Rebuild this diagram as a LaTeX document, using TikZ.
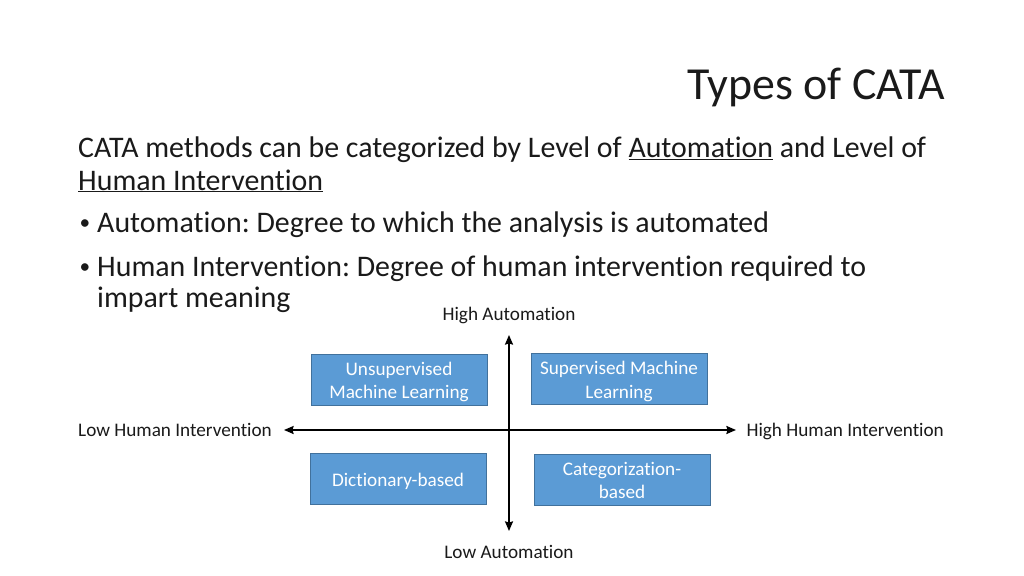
\documentclass[tikz,border=0pt]{standalone}
\usepackage{fontspec}
\setmainfont[Ligatures=NoCommon]{Carlito}
\frenchspacing
\usetikzlibrary{arrows.meta}
\definecolor{boxfill}{HTML}{5B9BD5}
\definecolor{boxline}{HTML}{41719C}
\definecolor{txt}{HTML}{1A1A1A}
\begin{document}
\begin{tikzpicture}[x=0.9375pt,y=-0.9375pt,
  body/.style={anchor=base west,inner sep=0pt,font=\fontsize{28}{32}\selectfont,text=txt},
  dot/.style={anchor=base west,inner sep=0pt,font=\fontsize{20}{24}\selectfont,text=txt},
  lbl/.style={inner sep=0pt,font=\fontsize{18}{21.6}\selectfont,text=txt},
  quad/.style={draw=boxline,fill=boxfill,line width=0.8pt,inner sep=0pt,
    minimum width=176*0.9375pt,minimum height=51*0.9375pt},
  qtext/.style={inner sep=0pt,text=white,font=\fontsize{18}{21.6}\selectfont,align=center},
  axis/.style={line width=1.6pt,{Stealth[length=9pt,width=7.5pt,inset=1pt]}-{Stealth[length=9pt,width=7.5pt,inset=1pt]}}]
\useasboundingbox[fill=white] (0,0) rectangle (1024,576);
\node[anchor=base east,inner sep=0pt,font=\fontsize{43}{48}\selectfont,text=txt] (title) at (945,100) {Types of CATA};
\node[body] (l1) at (78,158) {CATA methods can be categorized by Level of \underline{Automation} and Level of};
\node[body] (l2) at (78,190) {\underline{Human Intervention}};
\node[dot] (d1) at (79.5,229) {\textbullet};
\node[body] (b1) at (97,232) {Automation: Degree to which the analysis is automated};
\node[dot] (d2) at (79.5,273) {\textbullet};
\node[body] (b2) at (97,276) {Human Intervention: Degree of human intervention required to};
\node[body] (b3) at (97,307) {impart meaning};
\node[lbl,anchor=base] (ha) at (509,320) {High Automation};
\node[lbl,anchor=base] (la) at (509,558) {Low Automation};
\node[lbl,anchor=base west] (lh) at (78,436) {Low Human Intervention};
\node[lbl,anchor=base east] (hh) at (944,436) {High Human Intervention};
\coordinate (top) at (509,335);
\coordinate (bot) at (509,531);
\coordinate (left) at (284,430);
\coordinate (right) at (736,430);
\draw[axis] (bot) -- (top);
\draw[axis] (left) -- (right);
\node[quad] (uml) at (399,379.5) {};
\node[qtext] (umlt) at (399,382) {Unsupervised\\Machine Learning};
\node[quad] (sml) at (619,379) {};
\node[qtext] (smlt) at (619,381.5) {Supervised Machine\\Learning};
\node[quad] (dict) at (398,479) {};
\node[qtext] (dictt) at (398,481) {Dictionary-based};
\node[quad] (cat) at (622,479.5) {};
\node[qtext] (catt) at (622,480.5) {Categorization-\\based};
\end{tikzpicture}
\end{document}
